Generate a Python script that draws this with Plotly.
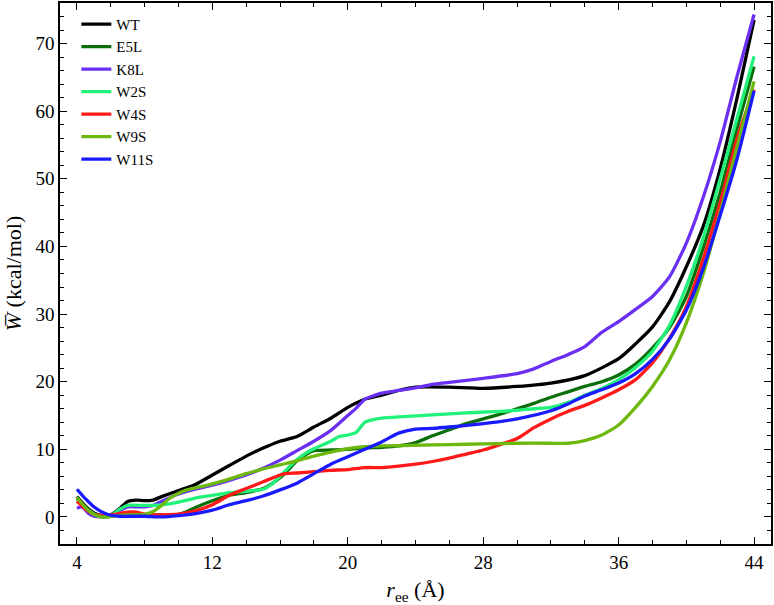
import plotly.graph_objects as go

# ---- data ----
wt_x = [4, 4.5, 5, 5.5, 6, 6.5, 7, 7.5, 8, 8.5, 9, 10, 11, 12, 13, 14, 15, 16, 17, 18, 19, 20, 21, 22, 23, 24, 26, 28, 30, 32, 34, 36, 37, 38, 39, 40, 41, 42, 43, 44]
wt_y = [3.0, 1.6, 0.6, 0.2, 0.3, 1.2, 2.3, 2.5, 2.4, 2.5, 3.0, 3.9, 4.8, 6.2, 7.6, 9.0, 10.2, 11.2, 11.9, 13.3, 14.6, 16.2, 17.4, 18.0, 18.7, 19.2, 19.2, 19.0, 19.3, 19.8, 20.9, 23.4, 25.6, 28.1, 31.8, 37.0, 43.0, 51.5, 62.0, 73.5]

e5l_x = [4, 4.5, 5, 5.5, 6, 7, 8, 9, 10, 10.5, 11, 12, 13, 14, 15, 15.5, 16, 16.5, 17, 17.5, 18, 19, 20, 21, 22, 23, 24, 25, 26, 27, 28, 29, 30, 31, 32, 33, 34, 35, 36, 37, 38, 39, 40, 41, 42, 43, 44]
e5l_y = [2.7, 1.4, 0.5, 0.0, 0.1, 0.3, 0.3, 0.3, 0.4, 0.8, 1.4, 2.4, 3.2, 3.6, 4.2, 4.9, 5.8, 7.0, 8.3, 9.2, 9.8, 9.9, 10.0, 10.2, 10.3, 10.5, 11.0, 12.0, 12.9, 13.8, 14.5, 15.2, 16.0, 16.8, 17.7, 18.5, 19.3, 20.0, 21.0, 22.6, 25.0, 28.0, 32.6, 39.8, 48.0, 57.5, 66.6]

k8l_x = [4, 4.3, 4.7, 5, 5.5, 6, 6.5, 7, 7.5, 8, 8.5, 9, 10, 11, 12, 13, 14, 15, 16, 17, 18, 19, 20, 20.5, 21, 21.5, 22, 23, 24, 25, 26, 28, 30, 31, 32, 33, 34, 35, 36, 37, 38, 39, 40, 41, 42, 43, 44]
k8l_y = [1.3, 1.5, 0.5, 0.1, 0.0, 0.1, 0.9, 1.5, 1.5, 1.5, 1.7, 2.3, 3.4, 4.1, 4.7, 5.4, 6.2, 7.2, 8.4, 9.8, 11.2, 12.8, 15.0, 16.1, 17.4, 17.9, 18.3, 18.7, 19.1, 19.6, 19.9, 20.5, 21.2, 21.9, 23.0, 24.0, 25.2, 27.3, 28.9, 30.7, 32.6, 35.5, 40.5, 47.3, 55.5, 65.2, 74.3]

w2s_x = [4, 4.5, 5, 5.5, 6, 6.5, 7, 8, 9, 10, 11, 12, 13, 14, 15, 15.5, 16, 16.5, 17, 17.5, 18, 19, 19.5, 20, 20.5, 21, 21.5, 22, 23, 25, 27, 29, 31, 32, 33, 34, 35, 36, 37, 38, 39, 40, 41, 42, 43, 44]
w2s_y = [2.6, 1.3, 0.4, 0.0, 0.2, 1.1, 1.7, 1.7, 1.8, 2.2, 2.8, 3.2, 3.6, 3.8, 4.1, 4.8, 6.0, 7.3, 8.5, 9.4, 10.1, 11.2, 11.9, 12.1, 12.5, 14.0, 14.4, 14.6, 14.8, 15.1, 15.4, 15.6, 16.0, 16.2, 16.9, 18.0, 19.0, 20.3, 22.1, 24.5, 28.3, 34.1, 41.3, 50.0, 59.0, 68.1]

w4s_x = [4, 4.5, 5, 5.5, 6, 6.5, 7, 7.5, 8, 8.5, 9, 10, 11, 12, 13, 14, 15, 16, 16.3, 17, 18, 19, 20, 21, 22, 23, 24, 25, 26, 27, 28, 29, 30, 31, 32, 33, 34, 35, 36, 37, 38, 39, 40, 41, 42, 43, 44]
w4s_y = [2.3, 1.2, 0.4, 0.2, 0.3, 0.5, 0.7, 0.7, 0.4, 0.3, 0.3, 0.4, 0.9, 1.8, 3.2, 4.2, 5.2, 6.2, 6.4, 6.5, 6.7, 6.9, 7.0, 7.3, 7.3, 7.5, 7.8, 8.2, 8.7, 9.3, 9.9, 10.7, 11.6, 13.2, 14.5, 15.6, 16.5, 17.6, 18.8, 20.3, 22.8, 26.4, 31.1, 38.2, 46.5, 56.0, 63.2]

w9s_x = [4, 4.5, 5, 5.5, 6, 7, 8, 8.5, 9, 9.5, 10, 10.5, 11, 12, 13, 14, 15, 16, 17, 18, 19, 20, 21, 22, 24, 26, 28, 30, 32, 33, 34, 35, 36, 37, 38, 39, 40, 41, 42, 43, 44]
w9s_y = [2.9, 1.4, 0.4, 0.0, 0.1, 0.3, 0.4, 0.8, 1.7, 2.8, 3.5, 4.0, 4.3, 4.9, 5.6, 6.4, 7.1, 7.7, 8.3, 9.0, 9.6, 10.1, 10.4, 10.5, 10.6, 10.7, 10.8, 10.9, 10.9, 10.9, 11.3, 12.1, 13.6, 16.2, 19.3, 23.2, 28.7, 36.0, 45.0, 54.8, 64.4]

w11s_x = [4, 4.5, 5, 5.5, 6, 6.5, 7, 8, 9, 10, 11, 12, 13, 14, 15, 16, 17, 18, 19, 20, 21, 22, 23, 24, 25, 26, 28, 30, 32, 33, 34, 35, 36, 37, 38, 39, 40, 41, 42, 43, 44]
w11s_y = [4.1, 2.7, 1.5, 0.7, 0.25, 0.1, 0.1, 0.1, 0.0, 0.2, 0.5, 1.0, 1.8, 2.4, 3.1, 4.0, 5.0, 6.4, 7.8, 8.9, 10.0, 11.1, 12.4, 13.0, 13.1, 13.3, 13.8, 14.5, 15.7, 16.7, 17.9, 18.8, 19.8, 21.2, 23.3, 26.3, 30.6, 36.8, 44.6, 53.0, 63.0]

series_names = ["WT", "E5L", "K8L", "W2S", "W4S", "W9S", "W11S"]
series_x = [wt_x, e5l_x, k8l_x, w2s_x, w4s_x, w9s_x, w11s_x]
series_y = [wt_y, e5l_y, k8l_y, w2s_y, w4s_y, w9s_y, w11s_y]
series_colors = ["#000000", "#0b6e0b", "#6a2ff2", "#22f27a", "#ff1a1a", "#6cb80c", "#1a1aff"]

x_ticks = [4, 12, 20, 28, 36, 44]
y_ticks = [0, 10, 20, 30, 40, 50, 60, 70]

FONT = "Liberation Serif, Times New Roman, serif"

fig = go.Figure()
for name, xs, ys, col in zip(series_names, series_x, series_y, series_colors):
    fig.add_trace(go.Scatter(
        x=xs, y=ys, name=name, mode="lines",
        line=dict(color=col, width=3.3, shape="spline", smoothing=0.6),
    ))

axis_common = dict(
    showline=True, linecolor="black", linewidth=1.5, mirror="ticks",
    ticks="inside", ticklen=7, tickwidth=1, tickcolor="black",
    showgrid=False, zeroline=False, automargin=False,
    tickfont=dict(family=FONT, size=19, color="black"),
)

fig.update_layout(
    width=774, height=605,
    margin=dict(l=60, r=3, t=3, b=61),
    plot_bgcolor="white", paper_bgcolor="white",
    font=dict(family=FONT, color="black"),
    xaxis=dict(
        range=[3, 45], tickvals=x_ticks,
        minor=dict(dtick=2, tick0=4, ticks="inside", ticklen=4, tickcolor="black"),
        title=dict(text="<i>r</i><sub>ee</sub> (Å)", font=dict(family=FONT, size=22), standoff=10),
        **axis_common,
    ),
    yaxis=dict(
        range=[-4, 76], tickvals=y_ticks,
        minor=dict(dtick=2, tick0=0, ticks="inside", ticklen=4, tickcolor="black"),
        title=dict(text="<i>W\u0305</i> (kcal/mol)", font=dict(family=FONT, size=22), standoff=8),
        **axis_common,
    ),
    legend=dict(
        x=0.023, y=0.991, xanchor="left", yanchor="top",
        bgcolor="rgba(0,0,0,0)", borderwidth=0,
        font=dict(family=FONT, size=15, color="black"),
        itemwidth=30, tracegroupgap=0,
    ),
)

fig.write_html("out.html", config={"displayModeBar": False},
               post_script="document.body.style.margin='0';")
